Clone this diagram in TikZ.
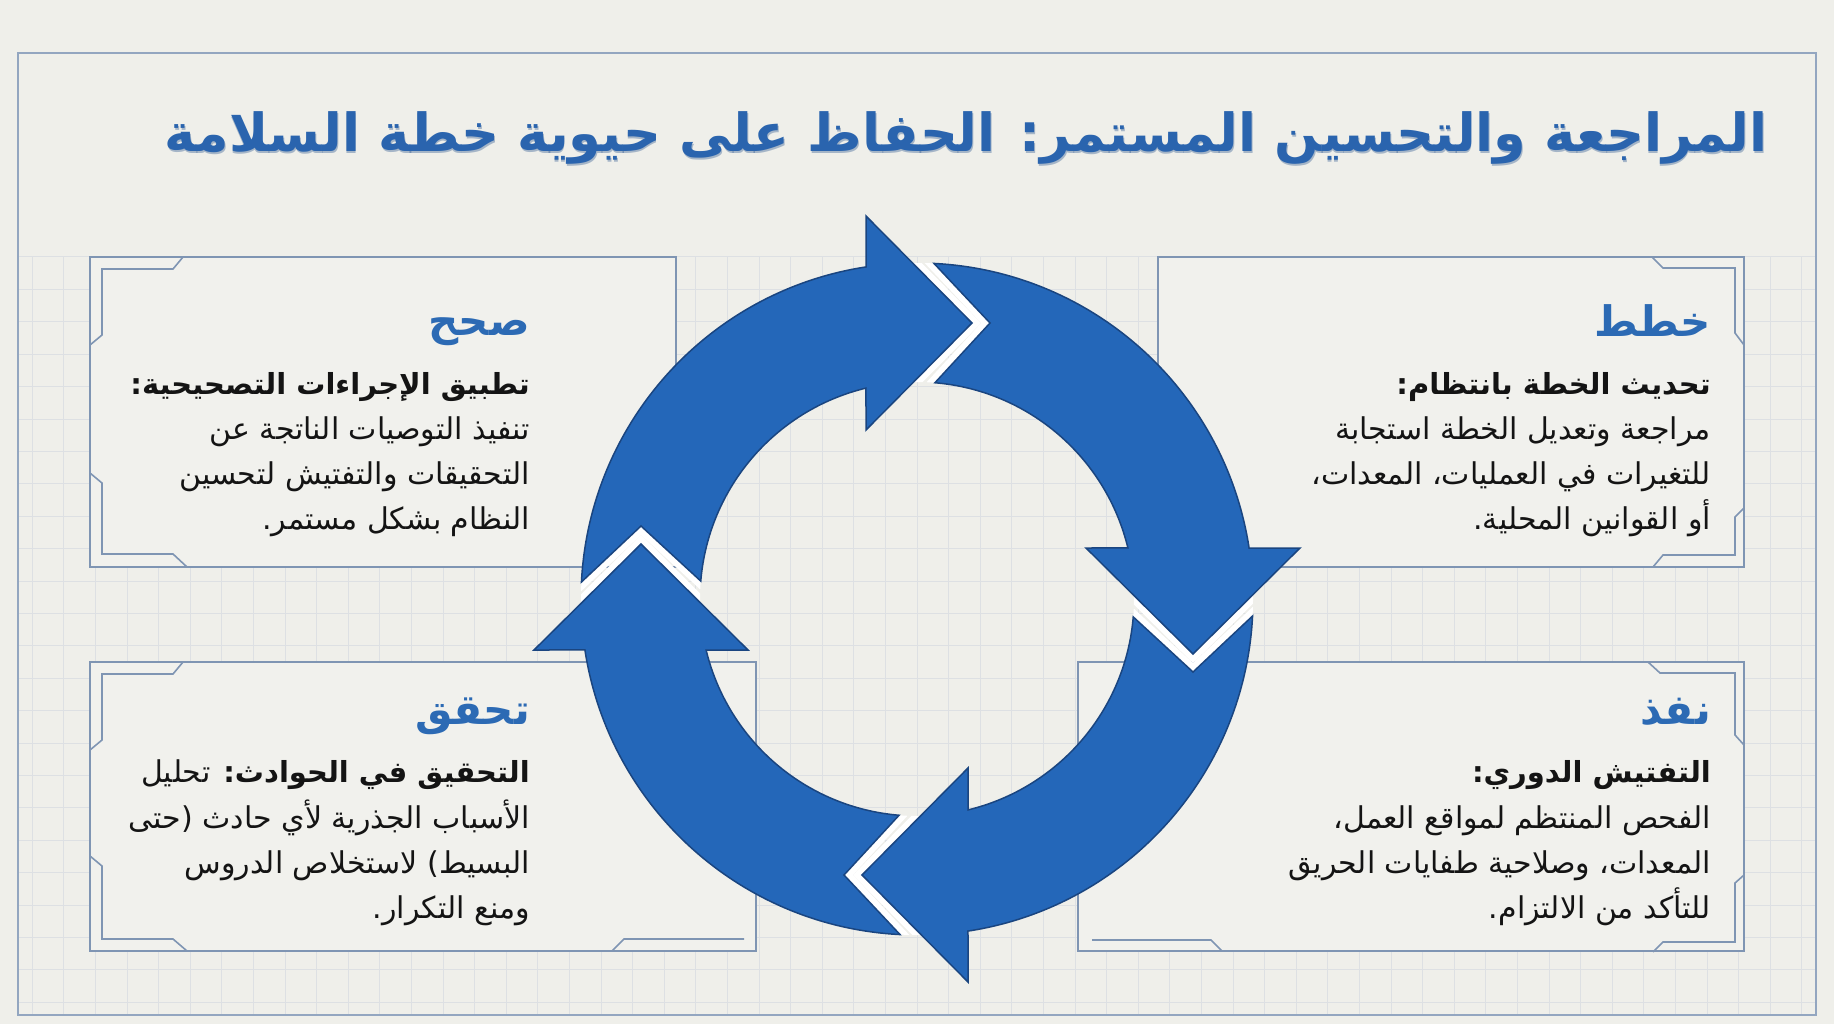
\documentclass[tikz,border=0pt]{standalone}
\usepackage{fontspec}
\TeXXeTstate=1
\newfontfamily\arfont[Script=Arabic]{DejaVu Sans}
\newcommand{\arl}[1]{\beginR #1\endR}
\definecolor{bgc}{HTML}{EFEFEA}
\definecolor{boxfill}{HTML}{F1F1ED}
\definecolor{gridc}{HTML}{DDE0E3}
\definecolor{framec}{HTML}{93A6C0}
\definecolor{boxline}{HTML}{7F95B3}
\definecolor{arrowblue}{HTML}{2467B9}
\definecolor{arrowedge}{HTML}{1A4580}
\definecolor{headblue}{HTML}{2C6AB4}
\definecolor{titleblue}{HTML}{2A64AE}
\definecolor{titleshadow}{HTML}{1C4A88}
\definecolor{bodytext}{HTML}{141414}
\newcommand{\ringarrow}{(177.1:336) arc[start angle=177.1, end angle=98.73, radius=336] -- (-51,383) -- (55,276) -- (-51,169) -- (103.6:217) arc[start angle=103.6, end angle=175.26, radius=217] -- (-276,73) -- cycle}
\newcommand{\titlestring}{\arl{المراجعة والتحسين المستمر: الحفاظ على حيوية خطة السلامة}}
\tikzset{
  gridline/.style={draw=gridc, line width=1pt},
  panel/.style={fill=boxfill, draw=boxline, line width=1.8pt},
  bracket/.style={draw=boxline, line width=1.6pt, line join=miter},
  titletext/.style={font=\arfont\bfseries\fontsize{52.5}{60}\selectfont, text=titleblue, anchor=base east, inner sep=0pt},
  headtext/.style={font=\arfont\bfseries\fontsize{42}{48}\selectfont, text=headblue, anchor=base east, inner sep=0pt},
  subtext/.style={font=\arfont\bfseries\fontsize{29}{34}\selectfont, text=bodytext, anchor=base east, inner sep=0pt},
  bodytxt/.style={font=\arfont\fontsize{30}{34}\selectfont, text=bodytext, anchor=base east, inner sep=0pt},
  arrowwhite/.style={draw=white, line width=13pt, line join=miter},
  arrowfill/.style={fill=arrowblue, draw=arrowedge, line width=1.5pt, line join=miter}
}
\begin{document}
\begin{tikzpicture}[x=1pt, y=-1pt]
\useasboundingbox (0,0) rectangle (1834,1024);
\fill[bgc] (0,0) rectangle (1834,1024);
% grid
\foreach \i in {-28,...,28} \draw[gridline] (917+\i*31.6,257) -- (917+\i*31.6,1015);
\foreach \j in {0,...,23} \draw[gridline] (19,257+\j*32.4) -- (1816,257+\j*32.4);
% outer frame
\draw[draw=framec, line width=1.8pt] (18,53) rectangle (1816,1015);
% title with a soft shadow
\node[titletext, text=titleshadow, opacity=0.35] (titleshade) at (1768.8,153.8) {\titlestring};
\node[titletext] (title) at (1768,152) {\titlestring};
% panels
\draw[panel] (90,257) rectangle (676,567);
\draw[panel] (1158,257) rectangle (1744,567);
\draw[panel] (90,662) rectangle (756,951);
\draw[panel] (1078,662) rectangle (1744,951);
% brackets
\draw[bracket] (183,257) -- (173,269) -- (102,269) -- (102,335) -- (90,345);
\draw[bracket] (90,473) -- (102,483) -- (102,554) -- (173,554) -- (187,567);
\draw[bracket] (1652,257) -- (1663,268) -- (1735,268) -- (1735,333) -- (1744,345);
\draw[bracket] (1744,508) -- (1735,517) -- (1735,555) -- (1663,555) -- (1653,567);
\draw[bracket] (183,662) -- (173,674) -- (102,674) -- (102,740) -- (90,750);
\draw[bracket] (90,856) -- (102,866) -- (102,939) -- (173,939) -- (187,951);
\draw[bracket] (612,951) -- (624,939) -- (744,939);
\draw[bracket] (1648,662) -- (1660,673) -- (1735,673) -- (1735,735) -- (1744,745);
\draw[bracket] (1744,875) -- (1735,883) -- (1735,942) -- (1663,942) -- (1653,952);
\draw[bracket] (1092,940) -- (1211,940) -- (1222,951);
% cycle arrows
\begin{scope}[shift={(917,599)}, yscale=-1]
  \begin{scope}[even odd rule]
    \clip (0,0) circle[radius=336] (0,0) circle[radius=217];
    \foreach \a in {0,-90,-180,-270} \path[arrowwhite, rotate=\a] \ringarrow;
  \end{scope}
  \foreach \a in {0,-90,-180,-270} \path[arrowfill, rotate=\a] \ringarrow;
\end{scope}
% top-right: plan
\node[headtext] (h1) at (1711,337) {\arl{خطط}};
\node[subtext] (s1) at (1711,394) {\arl{تحديث الخطة بانتظام:}};
\node[bodytxt] (b1a) at (1711,439) {\arl{مراجعة وتعديل الخطة استجابة}};
\node[bodytxt] (b1b) at (1711,484) {\arl{للتغيرات في العمليات، المعدات،}};
\node[bodytxt] (b1c) at (1711,529) {\arl{أو القوانين المحلية.}};
% bottom-right: do
\node[headtext] (h2) at (1711,724) {\arl{نفذ}};
\node[subtext] (s2) at (1711,782) {\arl{التفتيش الدوري:}};
\node[bodytxt] (b2a) at (1711,828) {\arl{الفحص المنتظم لمواقع العمل،}};
\node[bodytxt] (b2b) at (1711,873) {\arl{المعدات، وصلاحية طفايات الحريق}};
\node[bodytxt] (b2c) at (1711,918) {\arl{للتأكد من الالتزام.}};
% bottom-left: check
\node[headtext] (h3) at (530,724) {\arl{تحقق}};
\node[bodytxt] (s3) at (530,782) {\arl{{\bfseries\fontsize{29}{34}\selectfont التحقيق في الحوادث:} تحليل}};
\node[bodytxt] (b3a) at (530,828) {\arl{الأسباب الجذرية لأي حادث (حتى}};
\node[bodytxt] (b3b) at (530,873) {\arl{البسيط) لاستخلاص الدروس}};
\node[bodytxt] (b3c) at (530,918) {\arl{ومنع التكرار.}};
% top-left: act
\node[headtext] (h4) at (530,335) {\arl{صحح}};
\node[subtext] (s4) at (530,394) {\arl{تطبيق الإجراءات التصحيحية:}};
\node[bodytxt] (b4a) at (530,439) {\arl{تنفيذ التوصيات الناتجة عن}};
\node[bodytxt] (b4b) at (530,484) {\arl{التحقيقات والتفتيش لتحسين}};
\node[bodytxt] (b4c) at (530,529) {\arl{النظام بشكل مستمر.}};
\end{tikzpicture}
\end{document}
